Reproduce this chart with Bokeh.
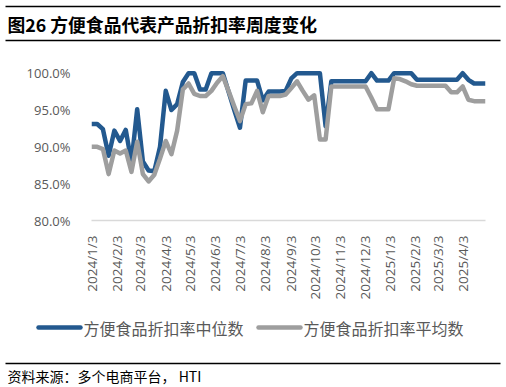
import math
import pandas as pd
from bokeh.plotting import figure
from bokeh.models import ColumnDataSource, Range1d, FixedTicker, PrintfTickFormatter
from bokeh.layouts import column
from bokeh.core.properties import value
from bokeh.embed import file_html
from bokeh.resources import INLINE

title_text = "图26 方便食品代表产品折扣率周度变化"
series_names = ["方便食品折扣率中位数", "方便食品折扣率平均数"]
source_text = "资料来源：多个电商平台， HTI"

start_date = "2024-01-03"
tick_labels = ["2024/1/3", "2024/2/3", "2024/3/3", "2024/4/3", "2024/5/3", "2024/6/3",
               "2024/7/3", "2024/8/3", "2024/9/3", "2024/10/3", "2024/11/3", "2024/12/3",
               "2025/1/3", "2025/2/3", "2025/3/3", "2025/4/3"]
y_ticks = [80, 85, 90, 95, 100]

median = [93.1, 93.1, 92.4, 88.8, 92.2, 90.8, 92.3, 87.9, 95.1, 88.0,
          86.8, 86.7, 90.0, 97.6, 95.0, 95.8, 98.8, 100, 100, 97.8,
          97.8, 100, 100, 100, 97.5, 95.0, 92.6, 99.0, 99.0, 99.0,
          96.3, 97.5, 97.5, 97.5, 97.6, 99.3, 100, 100, 100, 100,
          100, 92.8, 98.9, 98.9, 98.9, 98.9, 98.9, 98.9, 98.9, 100,
          99.0, 99.0, 99.0, 100, 100, 100, 100, 99.1, 99.1, 99.1,
          99.1, 99.1, 99.1, 99.1, 99.1, 100, 99.1, 98.6, 98.6, 98.6]
mean = [90.0, 90.0, 89.7, 86.3, 89.5, 89.1, 89.5, 86.6, 90.7, 86.3,
        85.3, 86.2, 88.4, 90.8, 89.0, 92.2, 97.8, 98.6, 97.2, 96.9,
        96.9, 97.6, 98.7, 99.6, 97.6, 95.5, 93.5, 95.8, 95.9, 97.6,
        94.7, 96.9, 96.9, 96.9, 97.1, 98.0, 98.9, 97.6, 96.4, 97.0,
        91.0, 91.0, 98.2, 98.2, 98.2, 98.2, 98.2, 98.2, 98.2, 96.7,
        95.1, 95.1, 95.1, 99.3, 99.2, 98.9, 98.5, 98.3, 98.3, 98.3,
        98.3, 98.3, 98.3, 97.4, 97.4, 98.2, 96.4, 96.2, 96.2, 96.2]

BLUE = "#23598F"
GREY = "#9E9E9E"
W = 504

t0 = pd.Timestamp(start_date)
dates = pd.date_range(start_date, periods=len(median), freq="7D")
xdays = [(d - t0).days for d in dates]
tick_pos = [(pd.to_datetime(t, format="%Y/%m/%d") - t0).days for t in tick_labels]

src = ColumnDataSource(dict(x=xdays, median=median, mean=mean))


def blank(h):
    f = figure(width=W, height=h, x_range=Range1d(0, W), y_range=Range1d(h, 0),
               min_border=0, min_border_left=0, min_border_right=0, min_border_top=0,
               min_border_bottom=0, toolbar_location=None, output_backend="svg",
               x_axis_location=None, y_axis_location=None, title_location=None)
    f.frame_align = False
    f.outline_line_color = None
    f.grid.visible = False
    f.background_fill_color = "white"
    return f


# header (page y 0..48)
hdr = blank(48)
hdr.segment(x0=[5, 5], y0=[6, 40], x1=[500, 500], y1=[6, 40], line_color="#000000", line_width=1.5)
hdr.text(x=[7], y=[23.5], text=[title_text], text_font=value("Noto Sans CJK SC"),
         text_font_style="bold", text_font_size="17.8px", text_baseline="middle",
         text_align="left", text_color="#000000")

# main chart (page y 48..305)
p = figure(width=W, height=257, x_range=Range1d(0, xdays[-1]), y_range=Range1d(80, 100.5),
           min_border_left=91, min_border_right=19, min_border_top=21, min_border_bottom=85,
           toolbar_location=None, output_backend="svg", title_location=None)
p.frame_align = False
p.outline_line_color = None
p.grid.visible = False

p.line("x", "median", source=src, line_color=BLUE, line_width=4.5, line_join="round")
p.line("x", "mean", source=src, line_color=GREY, line_width=4.5, line_join="round")

p.yaxis.ticker = FixedTicker(ticks=y_ticks)
p.yaxis.formatter = PrintfTickFormatter(format="%.1f%%")
p.yaxis.axis_line_color = None
p.yaxis.major_tick_line_color = None
p.yaxis.minor_tick_line_color = None
p.yaxis.major_label_standoff = 15
p.yaxis.major_label_text_font = "Open Sans"
p.yaxis.major_label_text_font_size = "13px"
p.yaxis.major_label_text_color = "#595959"

p.xaxis.ticker = FixedTicker(ticks=tick_pos)
p.xaxis.major_label_overrides = {int(tp): lab for tp, lab in zip(tick_pos, tick_labels)}
p.xaxis.major_label_orientation = math.pi / 2
p.xaxis.axis_line_color = "#D9D9D9"
p.xaxis.axis_line_width = 1.5
p.xaxis.major_tick_line_color = None
p.xaxis.minor_tick_line_color = None
p.xaxis.major_label_standoff = 9
p.xaxis.major_label_text_font = "Open Sans"
p.xaxis.major_label_text_font_size = "13.5px"
p.xaxis.major_label_text_color = "#595959"

# footer with legend and source (page y 305..385)
ftr = blank(80)
ftr.segment(x0=[38, 258], y0=[22, 22], x1=[80, 300], y1=[22, 22],
            line_color=[BLUE, GREY], line_width=4.5, line_cap="round")
ftr.text(x=[83, 303], y=[22, 22], text=series_names, text_font=value("Noto Sans CJK SC"),
         text_font_size="16px", text_baseline="middle", text_align="left", text_color="#595959")
ftr.segment(x0=[5], y0=[58], x1=[500], y1=[58], line_color="#000000", line_width=1.3)
ftr.text(x=[7], y=[70], text=[source_text], text_font=value("Noto Sans CJK SC"),
         text_font_size="14px", text_baseline="middle", text_align="left", text_color="#000000")

layout = column(hdr, p, ftr, spacing=0)
open("out.html", "w").write(file_html(layout, INLINE))
